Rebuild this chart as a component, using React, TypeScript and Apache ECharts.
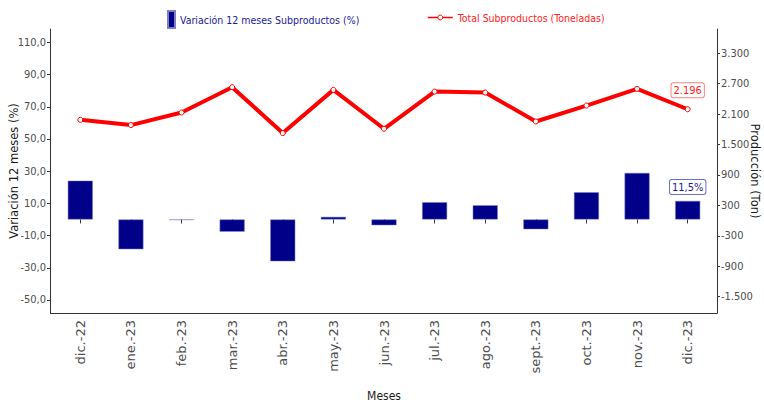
import React, { useEffect, useRef } from "react";
import * as echarts from "echarts";

const months = ["dic.-22", "ene.-23", "feb.-23", "mar.-23", "abr.-23", "may.-23", "jun.-23", "jul.-23", "ago.-23", "sept.-23", "oct.-23", "nov.-23", "dic.-23"];
const variacion = [24.1, -18.5, -0.3, -7.6, -26.0, 1.6, -3.6, 10.7, 8.8, -6.1, 16.9, 28.9, 11.5];
const toneladas = [1988, 1884, 2132, 2631, 1726, 2578, 1811, 2545, 2525, 1955, 2269, 2598, 2196];
const leftTicks = [-50, -30, -10, 10, 30, 50, 70, 90, 110];
const rightTicks = [-1500, -900, -300, 300, 900, 1500, 2100, 2700, 3300];

const barName = "Variación 12 meses Subproductos (%)";
const lineName = "Total Subproductos (Toneladas)";

const NARROW = "'Liberation Sans Narrow', 'DejaVu Sans Condensed', 'Arial Narrow', sans-serif";
const WIDE = "'DejaVu Sans', Verdana, sans-serif";

const fmtLeft = (v: number) => v.toFixed(1).replace(".", ",");
const fmtThousands = (v: number) => {
  const s = Math.abs(Math.round(v)).toString().replace(/\B(?=(\d{3})+(?!\d))/g, ".");
  return (v < 0 ? "-" : "") + s;
};

export default function App() {
  const ref = useRef<HTMLDivElement>(null);
  useEffect(() => {
    if (!ref.current) return;
    const chart = echarts.init(ref.current, null, { renderer: "svg" });
    const last = months.length - 1;
    chart.setOption({
      animation: false,
      backgroundColor: "#ffffff",
      grid: { left: 55, right: 51, top: 29, bottom: 93, outerBoundsMode: "none" },
      legend: [
        {
          data: [barName],
          left: 167,
          top: 10,
          padding: 0,
          icon: "rect",
          itemWidth: 7,
          itemHeight: 17,
          textStyle: { color: "#1a1a99", fontSize: 10.5, fontFamily: NARROW },
        },
        {
          data: [lineName],
          left: 427,
          top: 12,
          padding: 0,
          itemWidth: 25,
          itemHeight: 6,
          lineStyle: { width: 1.5, color: "#ff0000" },
          itemStyle: { color: "#ffffff", borderColor: "#ff0000", borderWidth: 1 },
          textStyle: { color: "#ff2222", fontSize: 10.5, fontFamily: NARROW },
        },
      ],
      graphic: [
        {
          type: "line",
          shape: { x1: 50, y1: 313.5, x2: 717.5, y2: 313.5 },
          style: { stroke: "#333333", lineWidth: 1 },
          silent: true,
        },
      ],
      xAxis: {
        type: "category",
        data: months,
        name: "Meses",
        nameLocation: "middle",
        nameGap: 77,
        nameMoveOverlap: false,
        nameTextStyle: { color: "#1a1a1a", fontSize: 12, fontFamily: NARROW },
        axisLine: { show: false },
        axisTick: { show: true, alignWithLabel: true, length: 4, lineStyle: { color: "#333333" } },
        axisLabel: {
          rotate: 90,
          margin: 7,
          interval: 0,
          color: "#4d4d4d",
          fontSize: 13,
          fontFamily: WIDE,
          padding: [0, 0, 13, 0],
        },
        splitLine: { show: false },
      },
      yAxis: [
        {
          type: "value",
          position: "left",
          offset: 5,
          min: -58.1,
          max: 118.3,
          name: "Variación 12 meses (%)",
          nameLocation: "middle",
          nameGap: 30,
          nameMoveOverlap: false,
          nameTextStyle: { color: "#1a1a1a", fontSize: 11.5, fontFamily: WIDE },
          axisLine: { show: true, lineStyle: { color: "#333333", width: 1 } },
          axisTick: { show: true, length: 3, customValues: leftTicks, lineStyle: { color: "#333333" } },
          axisLabel: {
            customValues: leftTicks,
            formatter: fmtLeft,
            margin: 4,
            color: "#4d4d4d",
            fontSize: 11,
            fontFamily: NARROW,
          },
          splitLine: { show: false },
        },
        {
          type: "value",
          position: "right",
          offset: 4,
          min: -1821,
          max: 3778,
          name: "Producción (Ton)",
          nameLocation: "middle",
          nameRotate: -90,
          nameGap: 32,
          nameMoveOverlap: false,
          nameTextStyle: { color: "#1a1a1a", fontSize: 11.5, fontFamily: WIDE },
          axisLine: { show: true, lineStyle: { color: "#333333", width: 1 } },
          axisTick: { show: true, length: 3, customValues: rightTicks, lineStyle: { color: "#333333" } },
          axisLabel: {
            customValues: rightTicks,
            formatter: fmtThousands,
            margin: 4,
            color: "#4d4d4d",
            fontSize: 11,
            fontFamily: NARROW,
          },
          splitLine: { show: false },
        },
      ],
      series: [
        {
          name: barName,
          type: "bar",
          yAxisIndex: 0,
          barWidth: 25,
          itemStyle: { color: "#000088", borderColor: "#7f7fc4", borderWidth: 0.5 },
          data: variacion.map((v, i) =>
            i === last
              ? {
                  value: v,
                  label: {
                    show: true,
                    position: "top",
                    distance: 7,
                    formatter: (p: any) => fmtLeft(p.value) + "%",
                    color: "#1a1a99",
                    fontSize: 11,
                    fontFamily: NARROW,
                    backgroundColor: "#ffffff",
                    borderColor: "#6f6fc8",
                    borderWidth: 1,
                    borderRadius: 2,
                    padding: [2, 2, 1, 2],
                  },
                }
              : v
          ),
        },
        {
          name: lineName,
          type: "line",
          yAxisIndex: 1,
          symbol: "circle",
          symbolSize: 5,
          z: 5,
          lineStyle: { color: "#ff0000", width: 4 },
          itemStyle: { color: "#ffffff", borderColor: "#ff0000", borderWidth: 1 },
          data: toneladas.map((v, i) =>
            i === last
              ? {
                  value: v,
                  label: {
                    show: true,
                    position: "top",
                    distance: 9,
                    formatter: (p: any) => fmtThousands(p.value),
                    color: "#ff1a1a",
                    fontSize: 11,
                    fontFamily: NARROW,
                    backgroundColor: "#ffffff",
                    borderColor: "#ff8080",
                    borderWidth: 1,
                    borderRadius: 2,
                    padding: [2, 2, 1, 2],
                  },
                }
              : v
          ),
        },
      ],
    });
    return () => chart.dispose();
  }, []);
  return (
    <div
      ref={ref}
      style={{ position: "fixed", left: 0, top: 0, width: 764, height: 406, background: "#fff" }}
    />
  );
}
